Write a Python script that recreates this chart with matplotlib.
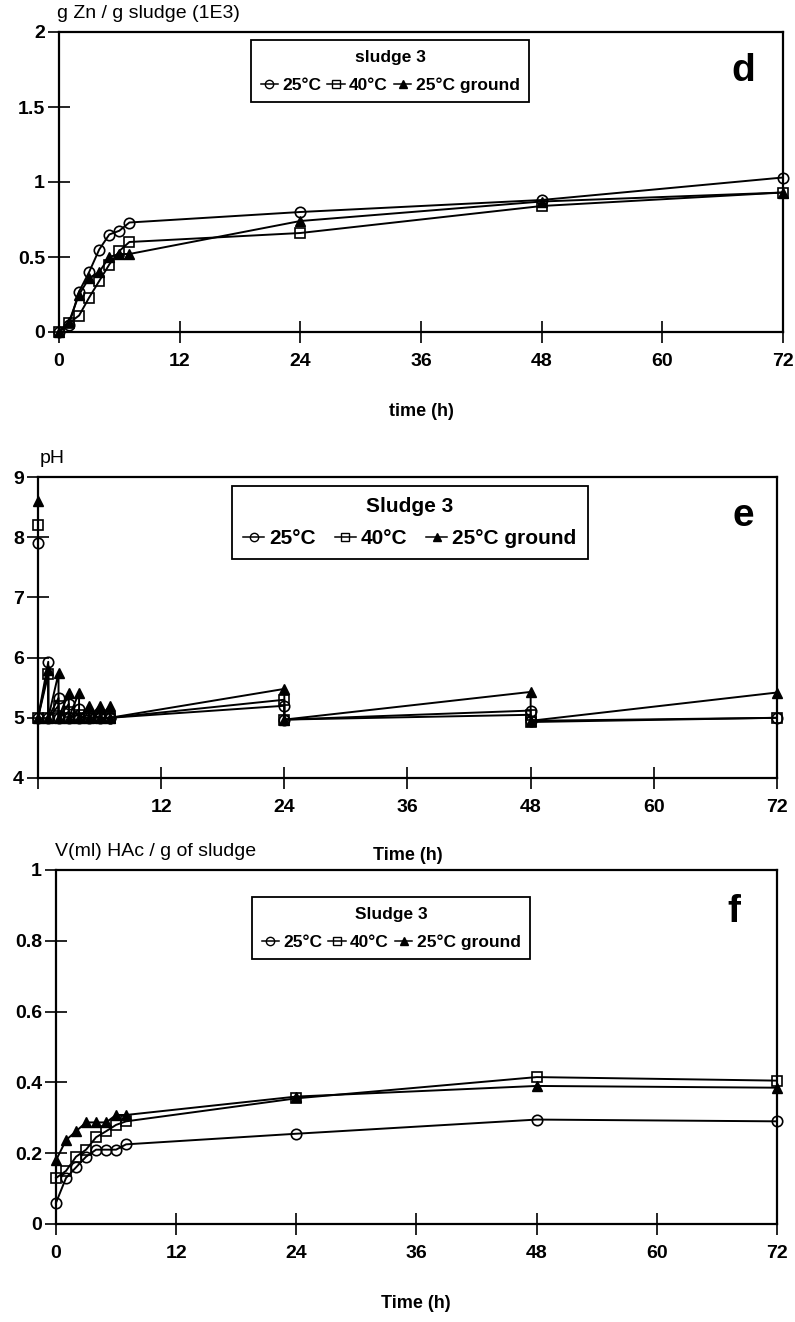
import numpy as np
import matplotlib.pyplot as plt
from matplotlib.lines import Line2D

plt.rcParams['font.family'] = ['Liberation Sans', 'DejaVu Sans']

# ---- data ----
t = [0, 1, 2, 3, 4, 5, 6, 7, 24, 48, 72]

zn_25 = [0.0, 0.05, 0.27, 0.40, 0.55, 0.65, 0.675, 0.73, 0.80, 0.88, 1.03]
zn_40 = [0.0, 0.06, 0.11, 0.23, 0.34, 0.45, 0.54, 0.60, 0.66, 0.84, 0.93]
zn_gr = [0.0, 0.07, 0.25, 0.36, 0.40, 0.50, 0.52, 0.52, 0.74, 0.87, 0.93]

# pH: measured value, then readjusted to ~5 at the same time
t_ph = [0, 0, 1, 1, 2, 2, 3, 3, 4, 4, 5, 5, 6, 6, 7, 7, 24, 24, 48, 48, 72]
ph_25 = [7.9, 5.0, 5.93, 5.0, 5.33, 5.0, 5.23, 5.0, 5.14, 5.0, 5.05, 5.0,
         5.02, 5.0, 5.0, 5.0, 5.2, 4.97, 5.12, 4.95, 5.0]
ph_40 = [8.2, 5.0, 5.72, 5.0, 5.2, 5.0, 5.1, 5.0, 5.05, 5.0, 5.0, 5.0,
         5.0, 5.0, 5.0, 5.0, 5.3, 4.97, 5.05, 4.93, 5.0]
ph_gr = [8.6, 5.0, 5.8, 5.0, 5.74, 5.0, 5.42, 5.0, 5.42, 5.0, 5.2, 5.0,
         5.2, 5.0, 5.2, 5.0, 5.48, 4.97, 5.43, 4.95, 5.42]

hac_25 = [0.06, 0.13, 0.16, 0.19, 0.21, 0.21, 0.21, 0.225, 0.255, 0.295, 0.29]
hac_40 = [0.13, 0.15, 0.19, 0.21, 0.245, 0.262, 0.28, 0.29, 0.355, 0.415, 0.405]
hac_gr = [0.18, 0.237, 0.262, 0.287, 0.287, 0.287, 0.308, 0.308, 0.36, 0.39, 0.385]

labels = ['25°C', '40°C', '25°C ground']
xticks = [0, 12, 24, 36, 48, 60, 72]

W, H = 795, 1322
fig = plt.figure(figsize=(W / 100, H / 100), dpi=100)


def rect(x0, x1, ytop, ybot):
    return [x0 / W, 1 - ybot / H, (x1 - x0) / W, (ybot - ytop) / H]


def style(ax):
    for s in ax.spines.values():
        s.set_linewidth(1.6)
    ax.tick_params(direction='inout', length=16, width=1.2, labelsize=14)
    ax.tick_params(axis='x', pad=7)
    ax.tick_params(axis='y', pad=2)
    for lab in ax.get_xticklabels() + ax.get_yticklabels():
        lab.set_fontweight('bold')


def plot3(ax, x, a, b, c):
    kw = dict(color='black', lw=1.4, zorder=3, clip_on=False)
    ax.plot(x, a, marker='o', ms=7.5, mfc='none', mec='black', mew=1.2, **kw)
    ax.plot(x, b, marker='s', ms=7, mfc='none', mec='black', mew=1.2, **kw)
    ax.plot(x, c, marker='^', ms=7.5, mfc='black', mec='black', **kw)


def legend(ax, title, x0, ytop, size, colsp):
    handles = [Line2D([], [], color='black', lw=1.1, marker='o', ms=6, mfc='none'),
               Line2D([], [], color='black', lw=1.1, marker='s', ms=5.5, mfc='none'),
               Line2D([], [], color='black', lw=1.1, marker='^', ms=6, mfc='black')]
    leg = ax.legend(handles, labels, title=title, ncol=3, loc='upper left',
                    bbox_to_anchor=(x0 / W, 1 - ytop / H), bbox_transform=fig.transFigure,
                    fancybox=False, edgecolor='black', framealpha=1,
                    handlelength=1.0, handletextpad=0.25, columnspacing=colsp,
                    borderpad=0.55, borderaxespad=0, labelspacing=0.3,
                    prop={'size': size, 'weight': 'bold'},
                    title_fontproperties={'size': size, 'weight': 'bold'})
    leg._legend_box.sep = 9
    leg.get_frame().set_linewidth(1.3)


# ---- panel d ----
ax1 = fig.add_axes(rect(59, 783, 32, 332))
plot3(ax1, t, zn_25, zn_40, zn_gr)
ax1.set_xlim(0, 72)
ax1.set_ylim(0, 2)
ax1.set_xticks(xticks)
ax1.set_yticks([0, 0.5, 1, 1.5, 2])
ax1.set_yticklabels(['0', '0.5', '1', '1.5', '2'])
style(ax1)
legend(ax1, 'sludge 3', 251, 40, 12.5, 0.35)
ax1.text(0.945, 0.87, 'd', transform=ax1.transAxes, fontsize=28, fontweight='bold', ha='center', va='center')
fig.text(57 / W, 1 - 14 / H, 'g Zn / g sludge (1E3)', fontsize=14, ha='left', va='center')
fig.text(421 / W, 1 - 412 / H, 'time (h)', fontsize=13, fontweight='bold', ha='center', va='center')

# ---- panel e ----
ax2 = fig.add_axes(rect(38, 777, 477, 778))
plot3(ax2, t_ph, ph_25, ph_40, ph_gr)
ax2.set_xlim(0, 72)
ax2.set_ylim(4, 9)
ax2.set_xticks(xticks)
ax2.set_xticklabels([''] + [str(v) for v in xticks[1:]])
ax2.set_yticks([4, 5, 6, 7, 8, 9])
style(ax2)
legend(ax2, 'Sludge 3', 232, 486, 15, 0.9)
ax2.text(0.955, 0.87, 'e', transform=ax2.transAxes, fontsize=28, fontweight='bold', ha='center', va='center')
fig.text(40 / W, 1 - 458 / H, 'pH', fontsize=14, ha='left', va='center')
fig.text(408 / W, 1 - 855 / H, 'Time (h)', fontsize=13, fontweight='bold', ha='center', va='center')

# ---- panel f ----
ax3 = fig.add_axes(rect(56, 777, 870, 1224))
plot3(ax3, t, hac_25, hac_40, hac_gr)
ax3.set_xlim(0, 72)
ax3.set_ylim(0, 1)
ax3.set_xticks(xticks)
ax3.set_yticks([0, 0.2, 0.4, 0.6, 0.8, 1])
ax3.set_yticklabels(['0', '0.2', '0.4', '0.6', '0.8', '1'])
style(ax3)
legend(ax3, 'Sludge 3', 252, 897, 12.5, 0.35)
ax3.text(0.94, 0.88, 'f', transform=ax3.transAxes, fontsize=28, fontweight='bold', ha='center', va='center')
fig.text(55 / W, 1 - 852 / H, 'V(ml) HAc / g of sludge', fontsize=14, ha='left', va='center')
fig.text(416 / W, 1 - 1303 / H, 'Time (h)', fontsize=13, fontweight='bold', ha='center', va='center')

fig.savefig('out.png', dpi=100)
